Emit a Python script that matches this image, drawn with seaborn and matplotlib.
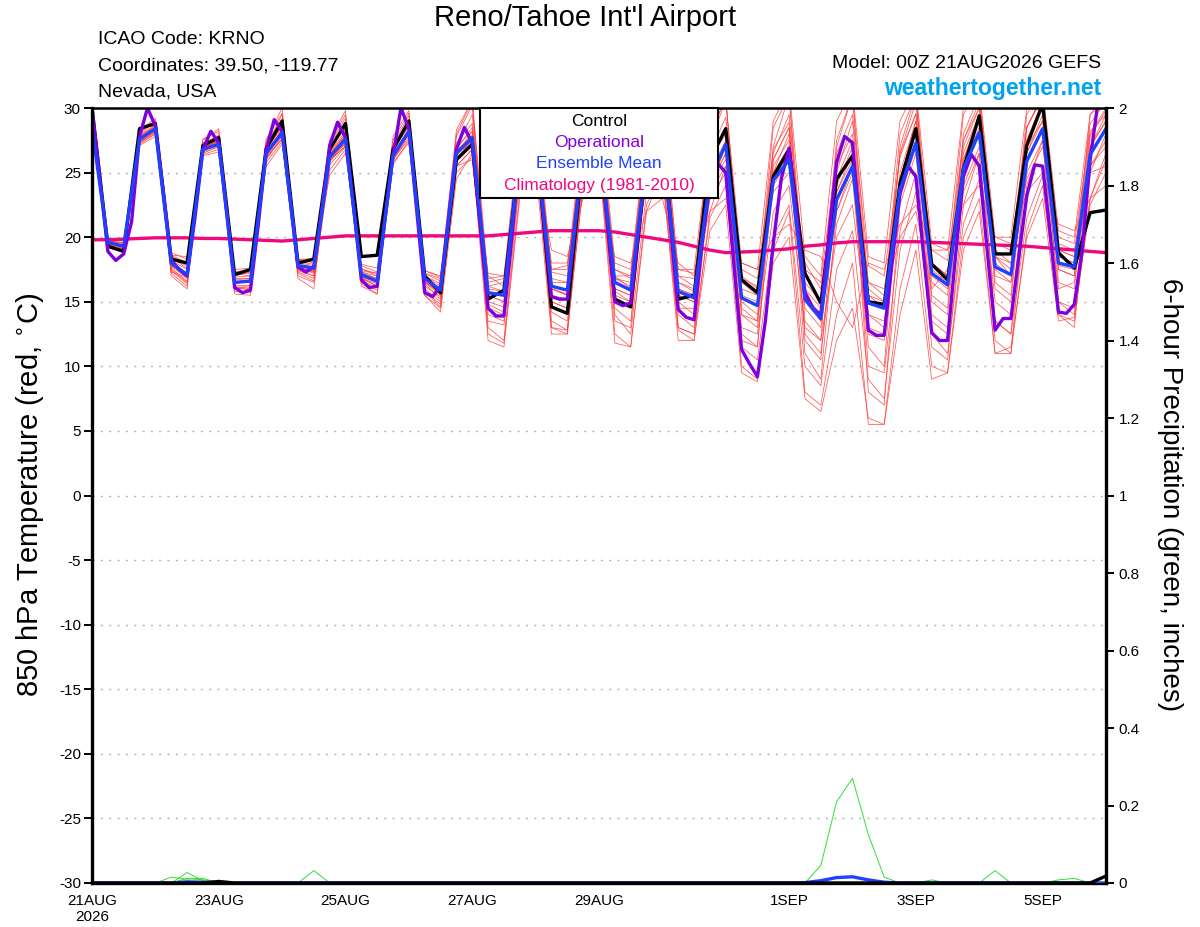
import numpy as np
import pandas as pd
import matplotlib
matplotlib.use("Agg")
import matplotlib.pyplot as plt
import seaborn as sns
from matplotlib.patches import Rectangle

# ---------------- data ----------------
hours6 = np.arange(0, 385, 6)      # 00Z 21AUG2026 .. 00Z 06SEP2026, 6-hourly
hours3 = np.arange(0, 385, 3)      # operational run, 3-hourly

tick_hours = [0, 48, 96, 144, 192, 264, 312, 360]
tick_labels = ["21AUG\n2026", "23AUG", "25AUG", "27AUG", "29AUG", "1SEP", "3SEP", "5SEP"]

control = [30.0,
    19.3, 18.9, 28.4, 28.8,
    18.3, 18.0, 27.1, 27.7,
    17.1, 17.5, 26.9, 29.0,
    18.0, 18.3, 26.8, 28.8,
    18.5, 18.6, 26.8, 29.0,
    17.0, 15.7, 26.0, 27.2,
    15.2, 15.9, 26.5, 28.0,
    14.6, 14.1, 26.5, 28.0,
    15.2, 14.6, 26.0, 28.0,
    15.2, 15.5, 26.0, 28.4,
    16.7, 15.7, 24.7, 26.8,
    17.2, 14.9, 24.5, 26.3,
    15.0, 14.8, 24.2, 28.4,
    17.9, 16.7, 25.3, 29.4,
    18.7, 18.7, 27.1, 30.3,
    18.8, 17.6, 21.9, 22.1]

ens_mean = [28.5,
    19.6, 19.3, 27.6, 28.4,
    18.0, 17.1, 26.8, 27.2,
    16.5, 16.6, 26.5, 28.1,
    17.8, 17.6, 26.2, 27.6,
    17.1, 16.6, 26.3, 28.2,
    16.8, 15.9, 26.5, 27.7,
    15.7, 15.5, 26.5, 27.5,
    16.2, 15.9, 26.5, 27.5,
    16.5, 15.9, 26.0, 27.5,
    15.8, 15.3, 24.5, 27.2,
    15.3, 14.7, 24.4, 26.0,
    15.2, 13.7, 22.9, 25.5,
    14.9, 14.5, 23.7, 27.3,
    17.2, 16.3, 25.3, 28.1,
    17.7, 17.1, 25.9, 28.4,
    18.0, 17.7, 26.4, 28.4]

operational = [30.0,
    24.5, 18.9, 18.2, 18.7, 21.2, 27.8, 30.0, 28.6,
    23.5, 18.2, 17.5, 17.0, 21.5, 26.8, 28.2, 27.3,
    22.0, 16.1, 15.7, 15.9, 21.0, 26.8, 29.1, 28.2,
    23.0, 17.7, 17.3, 17.7, 22.0, 27.1, 28.9, 27.7,
    22.5, 16.7, 16.1, 16.2, 21.5, 26.3, 30.0, 28.4,
    22.0, 15.7, 15.4, 16.2, 21.5, 26.8, 28.5, 27.3,
    21.0, 14.5, 13.9, 13.9, 20.0, 26.5, 28.5, 27.5,
    21.5, 15.4, 15.2, 15.2, 21.0, 26.5, 28.3, 27.5,
    21.5, 15.0, 14.7, 14.9, 20.5, 26.0, 28.0, 27.5,
    21.0, 14.4, 13.8, 13.6, 19.5, 24.0, 25.7, 25.0,
    18.0, 11.3, 10.2, 9.2, 13.5, 19.5, 24.5, 26.9,
    21.5, 15.7, 14.5, 14.0, 20.0, 25.8, 27.8, 27.3,
    20.0, 12.8, 12.4, 12.4, 18.0, 23.4, 25.5, 24.7,
    18.5, 12.6, 12.0, 12.0, 18.5, 24.7, 26.4, 25.5,
    19.0, 12.8, 13.7, 13.7, 18.5, 23.2, 25.6, 25.5,
    20.0, 14.2, 14.1, 14.8, 19.0, 26.0, 30.5, 31.0]

climatology = [19.8,
    19.8, 19.85, 19.9, 19.95,
    19.95, 19.95, 19.9, 19.9,
    19.85, 19.8, 19.75, 19.7,
    19.8, 19.9, 20.0, 20.1,
    20.1, 20.1, 20.1, 20.1,
    20.1, 20.1, 20.1, 20.1,
    20.1, 20.2, 20.3, 20.4,
    20.5, 20.5, 20.5, 20.5,
    20.4, 20.2, 20.0, 19.8,
    19.6, 19.3, 19.0, 18.8,
    18.85, 18.9, 19.0, 19.1,
    19.3, 19.4, 19.55, 19.65,
    19.65, 19.65, 19.65, 19.65,
    19.6, 19.55, 19.5, 19.45,
    19.4, 19.35, 19.3, 19.2,
    19.1, 19.0, 18.9, 18.8]

# ensemble members (850 hPa temperature)
mem01 = [29.5,
    19.8, 19.5, 28.0, 28.9, 18.4, 17.6, 27.3, 27.8, 17.0, 17.3, 27.2, 28.8, 18.3, 18.0, 26.9, 28.4,
    17.5, 17.2, 27.0, 28.9, 17.2, 16.6, 27.3, 28.8, 16.5, 16.8, 27.6, 28.9, 17.3, 17.0, 27.8, 29.0,
    17.5, 17.0, 27.5, 29.2, 17.0, 16.8, 26.5, 29.3, 17.5, 16.8, 26.8, 28.9, 17.5, 16.5, 26.5, 29.5,
    17.8, 17.0, 26.2, 29.6, 19.0, 18.2, 27.5, 30.5, 19.5, 19.0, 28.5, 30.8, 20.0, 19.5, 28.2, 29.5]
mem02 = [28.0,
    19.3, 19.0, 27.2, 28.0, 17.2, 16.2, 26.3, 26.6, 15.8, 15.7, 25.8, 27.4, 17.0, 16.5, 25.2, 26.8,
    16.5, 15.9, 25.6, 27.5, 15.8, 14.8, 25.0, 26.2, 13.5, 13.2, 24.8, 26.0, 14.2, 13.5, 24.5, 25.8,
    14.0, 12.5, 23.5, 25.5, 13.0, 12.5, 21.5, 24.0, 11.5, 10.5, 20.0, 22.5, 10.0, 8.5, 17.5, 20.5,
    9.0, 7.5, 19.0, 23.5, 12.5, 11.0, 21.0, 24.5, 13.5, 12.5, 21.5, 24.8, 15.0, 14.5, 23.0, 26.0]
mem03 = [28.8,
    19.5, 19.3, 27.8, 28.6, 17.8, 16.8, 26.9, 27.5, 16.2, 16.0, 26.8, 28.5, 17.5, 17.0, 26.5, 28.0,
    16.8, 16.4, 26.8, 28.8, 16.4, 15.2, 26.8, 28.5, 15.0, 14.6, 26.5, 28.0, 15.5, 15.2, 26.0, 27.0,
    16.8, 16.5, 27.0, 28.5, 15.0, 14.0, 25.5, 28.5, 14.0, 13.0, 25.0, 28.0, 12.5, 11.0, 21.0, 24.5,
    11.5, 10.0, 25.0, 29.0, 15.0, 14.0, 26.5, 29.5, 16.0, 15.0, 27.5, 30.5, 16.5, 16.0, 27.8, 29.8]
mem04 = [28.2,
    19.7, 19.6, 27.4, 28.2, 18.6, 18.5, 27.0, 27.0, 17.3, 17.2, 26.2, 27.6, 18.0, 18.2, 26.0, 27.0,
    17.6, 17.0, 26.0, 27.8, 17.2, 16.8, 26.2, 27.0, 17.0, 16.2, 27.0, 27.8, 17.5, 17.8, 26.8, 27.8,
    17.0, 16.0, 25.5, 26.5, 16.5, 15.8, 24.0, 26.0, 16.8, 16.2, 23.5, 25.0, 18.0, 16.0, 24.5, 27.5,
    16.5, 15.5, 20.0, 22.0, 16.0, 17.5, 24.0, 27.0, 19.0, 18.0, 24.5, 27.0, 19.5, 19.0, 25.5, 27.0]
mem05 = [28.6,
    19.4, 19.1, 27.5, 28.3, 17.5, 16.5, 26.5, 27.0, 16.0, 16.3, 26.0, 27.8, 17.3, 16.8, 25.8, 27.4,
    16.9, 16.2, 26.3, 28.4, 16.0, 15.0, 25.8, 27.8, 12.5, 11.8, 23.5, 26.5, 13.0, 12.8, 24.0, 26.8,
    12.5, 11.5, 22.5, 25.0, 12.8, 12.0, 20.5, 22.5, 9.5, 8.8, 18.0, 20.0, 7.5, 6.5, 12.0, 14.5,
    6.0, 5.5, 14.0, 19.0, 9.0, 9.5, 20.0, 23.0, 11.0, 11.5, 20.0, 23.0, 13.5, 13.8, 22.5, 25.0]
mem06 = [28.9,
    19.6, 19.4, 27.9, 28.7, 18.2, 17.5, 27.2, 27.9, 16.8, 16.8, 27.0, 29.5, 18.0, 17.8, 27.2, 29.2,
    17.3, 16.8, 27.2, 29.4, 17.0, 16.2, 27.8, 30.2, 16.0, 15.8, 28.0, 29.5, 16.8, 16.5, 28.5, 29.8,
    17.5, 16.8, 28.5, 30.5, 17.0, 16.2, 28.0, 30.8, 16.5, 15.5, 28.5, 31.0, 16.0, 14.5, 27.5, 31.0,
    16.0, 15.0, 28.0, 31.0, 18.0, 17.0, 29.5, 31.5, 18.5, 17.0, 29.5, 31.5, 19.0, 18.5, 28.8, 30.5]
mem07 = [28.3,
    19.5, 19.2, 27.6, 28.5, 18.0, 17.2, 27.0, 27.3, 16.6, 16.5, 26.6, 28.3, 17.8, 17.5, 26.0, 27.5,
    17.0, 16.5, 26.5, 28.0, 16.6, 15.6, 26.0, 27.5, 15.5, 15.0, 26.5, 27.2, 16.0, 15.5, 26.0, 27.0,
    16.0, 15.5, 26.5, 27.8, 15.5, 15.0, 24.0, 26.5, 15.5, 15.0, 24.0, 26.0, 14.5, 13.0, 23.5, 26.0,
    14.0, 13.5, 23.0, 27.0, 16.5, 15.5, 25.0, 28.0, 17.0, 16.5, 26.0, 28.5, 17.5, 17.0, 26.5, 28.5]
mem08 = [28.4,
    19.9, 19.8, 27.3, 28.0, 18.8, 18.3, 26.7, 27.1, 17.5, 17.6, 26.4, 27.9, 18.2, 18.3, 26.3, 27.2,
    17.8, 17.3, 26.0, 27.6, 17.4, 17.0, 25.5, 26.8, 17.2, 17.0, 25.0, 26.5, 18.0, 18.0, 25.5, 26.5,
    17.0, 17.0, 24.0, 25.0, 17.5, 17.2, 22.0, 23.0, 18.0, 17.5, 20.0, 21.0, 19.0, 18.5, 15.0, 13.0,
    18.0, 17.5, 21.0, 22.5, 19.0, 19.0, 22.5, 24.0, 20.0, 19.5, 23.5, 25.0, 21.0, 20.5, 23.0, 24.0]
mem09 = [28.7,
    19.2, 18.8, 27.5, 28.4, 17.0, 16.0, 26.8, 27.6, 15.6, 15.5, 26.3, 28.4, 16.8, 16.0, 26.4, 28.0,
    16.2, 15.6, 26.6, 28.7, 15.5, 14.5, 26.4, 28.2, 14.0, 13.5, 26.0, 27.5, 13.5, 12.8, 25.5, 27.2,
    14.5, 13.5, 25.0, 27.0, 14.0, 13.0, 25.0, 27.5, 12.0, 11.5, 26.0, 28.5, 12.0, 10.5, 24.0, 27.0,
    8.0, 7.0, 22.5, 26.5, 13.5, 12.5, 26.0, 29.0, 13.5, 12.5, 26.5, 29.5, 15.0, 14.0, 27.0, 29.5]
mem10 = [28.5,
    19.7, 19.5, 27.7, 28.5, 18.3, 17.8, 27.0, 27.4, 16.9, 17.0, 26.8, 28.6, 17.6, 17.4, 26.6, 28.2,
    17.2, 16.8, 26.7, 28.6, 16.8, 16.0, 27.0, 28.2, 16.2, 15.8, 26.8, 28.2, 16.5, 16.5, 27.0, 28.2,
    16.5, 16.0, 27.0, 28.5, 16.5, 16.0, 26.0, 28.0, 16.0, 15.5, 26.0, 28.5, 15.5, 14.0, 25.5, 28.0,
    15.5, 15.0, 26.5, 29.5, 18.0, 17.0, 27.5, 30.0, 18.5, 17.5, 28.5, 31.0, 18.5, 18.0, 28.0, 30.0]
mem11 = [28.1,
    19.4, 19.4, 27.1, 27.8, 18.5, 18.0, 26.4, 26.8, 17.2, 17.0, 25.5, 27.2, 18.1, 17.9, 24.8, 26.5,
    17.4, 17.2, 25.8, 27.3, 17.0, 16.4, 25.5, 26.0, 14.5, 14.0, 25.5, 27.0, 15.0, 14.5, 25.5, 26.5,
    15.5, 15.0, 26.0, 27.0, 14.5, 14.5, 23.0, 25.0, 13.0, 12.5, 22.0, 24.0, 13.0, 12.0, 20.0, 22.5,
    12.5, 12.0, 24.0, 28.0, 14.0, 13.0, 23.5, 26.5, 15.0, 14.0, 25.0, 27.5, 16.0, 16.5, 25.5, 27.5]
mem12 = [29.0,
    19.8, 19.0, 28.1, 29.0, 17.7, 17.0, 27.5, 28.4, 16.5, 16.7, 27.5, 30.0, 17.5, 17.3, 27.5, 29.8,
    16.9, 16.5, 27.5, 29.6, 16.5, 15.8, 28.0, 30.5, 15.5, 15.0, 28.5, 30.5, 16.0, 15.5, 28.0, 30.0,
    16.0, 15.5, 28.0, 30.5, 16.0, 15.5, 27.5, 31.0, 14.5, 13.5, 27.0, 31.0, 13.5, 12.0, 27.0, 31.0,
    13.0, 12.5, 27.0, 31.0, 15.5, 14.5, 28.0, 31.0, 16.5, 15.5, 28.5, 31.0, 17.5, 17.0, 29.5, 30.5]
mem13 = [28.4,
    19.5, 19.1, 27.4, 28.1, 17.9, 17.0, 26.6, 27.0, 16.4, 16.6, 26.4, 28.0, 17.6, 17.2, 26.0, 27.3,
    17.0, 16.5, 26.1, 28.0, 16.5, 15.5, 26.3, 27.5, 15.8, 15.5, 26.8, 28.3, 16.0, 15.6, 26.8, 28.0,
    16.8, 16.2, 26.5, 28.2, 15.5, 15.0, 25.5, 28.5, 15.0, 14.0, 25.5, 27.5, 16.0, 13.5, 22.0, 25.0,
    14.0, 13.0, 24.5, 29.0, 17.0, 16.0, 26.0, 29.5, 17.5, 16.5, 26.5, 29.0, 17.8, 17.5, 27.0, 29.0]
mem14 = [28.6,
    19.6, 19.2, 27.7, 28.3, 17.6, 16.6, 26.9, 27.3, 16.3, 16.2, 26.7, 28.2, 17.7, 17.3, 26.4, 27.8,
    16.8, 16.2, 26.4, 28.3, 16.5, 15.8, 26.7, 27.9, 14.8, 14.2, 26.0, 27.5, 15.0, 14.5, 25.0, 26.8,
    15.8, 15.0, 25.0, 26.5, 16.0, 15.5, 23.5, 25.5, 14.0, 13.5, 25.0, 27.0, 15.0, 13.5, 23.5, 26.5,
    16.5, 16.0, 24.5, 28.0, 18.0, 17.0, 25.5, 28.5, 18.5, 18.0, 27.0, 29.0, 18.5, 18.0, 27.0, 29.0]
mem15 = [28.3,
    19.4, 19.0, 27.3, 28.2, 17.4, 16.4, 26.6, 27.4, 16.1, 15.9, 26.2, 27.9, 17.2, 16.6, 25.6, 27.0,
    16.4, 15.6, 26.0, 28.0, 15.5, 14.2, 24.5, 26.5, 12.0, 11.5, 23.0, 25.5, 12.5, 12.5, 24.0, 26.0,
    11.8, 11.5, 22.0, 25.0, 12.0, 12.0, 22.0, 25.5, 10.0, 9.0, 19.0, 22.0, 8.0, 7.0, 14.0, 18.0,
    5.5, 5.5, 16.0, 21.0, 10.0, 9.5, 19.0, 22.0, 11.0, 11.0, 20.5, 24.0, 14.0, 13.5, 23.0, 26.5]
mem16 = [29.2,
    19.9, 19.7, 28.3, 29.2, 18.6, 18.0, 27.6, 28.2, 17.3, 17.5, 27.6, 29.6, 18.3, 18.3, 27.3, 29.5,
    17.9, 17.6, 27.8, 29.8, 17.4, 16.9, 28.3, 30.6, 16.8, 17.0, 28.5, 30.0, 17.5, 17.5, 28.5, 30.5,
    18.0, 17.5, 28.0, 30.5, 17.5, 17.5, 27.5, 30.5, 18.0, 17.5, 29.0, 31.5, 18.5, 17.0, 29.0, 31.5,
    18.5, 18.0, 29.0, 31.5, 19.5, 19.0, 30.0, 31.5, 20.0, 20.0, 30.0, 31.5, 20.5, 20.0, 29.5, 31.0]
mem17 = [28.7,
    19.6, 19.3, 27.8, 28.6, 17.8, 17.2, 26.9, 27.5, 16.7, 16.8, 26.7, 28.7, 17.9, 17.7, 26.3, 27.9,
    17.3, 17.0, 26.9, 28.7, 16.2, 15.4, 27.0, 29.5, 16.2, 16.5, 25.5, 26.0, 19.0, 18.5, 23.0, 24.5,
    18.5, 18.0, 22.0, 23.0, 18.0, 17.0, 24.0, 27.0, 17.0, 16.0, 26.5, 29.5, 16.5, 15.0, 25.0, 29.0,
    15.5, 14.5, 26.5, 30.5, 17.5, 16.5, 27.0, 30.0, 18.0, 17.0, 27.5, 30.5, 19.0, 18.5, 25.0, 25.5]
mem18 = [28.2,
    19.3, 18.9, 27.4, 28.3, 17.3, 16.9, 26.7, 27.2, 16.0, 16.1, 26.1, 27.6, 17.4, 17.0, 25.9, 27.1,
    16.6, 16.1, 26.2, 28.0, 15.8, 14.6, 25.5, 26.8, 13.0, 12.0, 24.5, 27.0, 13.0, 12.5, 25.5, 27.5,
    13.5, 13.0, 26.0, 27.0, 13.0, 12.5, 24.0, 26.5, 12.5, 11.5, 24.5, 26.5, 11.0, 9.0, 22.0, 25.5,
    10.0, 9.5, 20.5, 25.0, 11.5, 10.5, 22.5, 26.5, 12.0, 11.0, 24.0, 27.5, 14.0, 13.0, 25.0, 28.0]
members = [mem01, mem02, mem03, mem04, mem05, mem06, mem07, mem08, mem09,
           mem10, mem11, mem12, mem13, mem14, mem15, mem16, mem17, mem18]

# 6-hour precipitation (inches)
pr01 = [0.0,
    0, 0, 0, 0, 0, 0, 0, 0, 0, 0, 0, 0, 0, 0.032, 0, 0,
    0, 0, 0, 0, 0, 0, 0, 0, 0, 0, 0, 0, 0, 0, 0, 0,
    0, 0, 0, 0, 0, 0, 0, 0, 0, 0, 0, 0, 0, 0.045, 0.21, 0.27,
    0.125, 0.015, 0, 0, 0, 0, 0, 0, 0, 0, 0, 0, 0, 0, 0, 0]
pr02 = [0.0,
    0, 0, 0, 0, 0.015, 0.01, 0.012, 0, 0, 0, 0, 0, 0, 0, 0, 0,
    0, 0, 0, 0, 0, 0, 0, 0, 0, 0, 0, 0, 0, 0, 0, 0,
    0, 0, 0, 0, 0, 0, 0, 0, 0, 0, 0, 0, 0, 0, 0, 0,
    0, 0, 0, 0, 0.008, 0, 0, 0, 0.032, 0, 0, 0, 0, 0, 0, 0]
pr03 = [0.0,
    0, 0, 0, 0, 0, 0.027, 0.006, 0, 0, 0, 0, 0, 0, 0, 0, 0,
    0, 0, 0, 0, 0, 0, 0, 0, 0, 0, 0, 0, 0, 0, 0, 0,
    0, 0, 0, 0, 0, 0, 0, 0, 0, 0, 0, 0, 0, 0, 0, 0,
    0, 0, 0, 0, 0, 0, 0, 0, 0, 0, 0, 0, 0.008, 0.012, 0, 0]
pr04 = [0.0,
    0, 0, 0, 0, 0, 0.012, 0.008, 0.004, 0, 0, 0, 0, 0, 0, 0, 0,
    0, 0, 0, 0, 0, 0, 0, 0, 0, 0, 0, 0, 0, 0, 0, 0,
    0, 0, 0, 0, 0, 0, 0, 0, 0, 0, 0, 0, 0, 0, 0, 0,
    0, 0, 0, 0, 0, 0, 0, 0, 0, 0, 0, 0, 0, 0, 0, 0]
precip_members = [pr01, pr02, pr03, pr04]
precip_mean = [0.0,
    0, 0, 0, 0, 0, 0.003, 0.002, 0, 0, 0, 0, 0, 0, 0, 0, 0,
    0, 0, 0, 0, 0, 0, 0, 0, 0, 0, 0, 0, 0, 0, 0, 0,
    0, 0, 0, 0, 0, 0, 0, 0, 0, 0, 0, 0, 0.001, 0.006, 0.014, 0.016,
    0.008, 0.002, 0, 0, 0, 0, 0, 0, 0, 0, 0, 0, 0, 0, 0, 0]
precip_control = [0.0,
    0, 0, 0, 0, 0, 0, 0, 0.004, 0, 0, 0, 0, 0, 0, 0, 0,
    0, 0, 0, 0, 0, 0, 0, 0, 0, 0, 0, 0, 0, 0, 0, 0,
    0, 0, 0, 0, 0, 0, 0, 0, 0, 0, 0, 0, 0, 0, 0, 0,
    0, 0, 0, 0, 0, 0, 0, 0, 0, 0, 0, 0, 0, 0, 0, 0.018]

# ---------------- tables ----------------
n6 = len(hours6)
df_mem = pd.DataFrame({
    "hour": np.tile(hours6, len(members)),
    "temp": np.concatenate([np.asarray(m, float) for m in members]),
    "member": np.repeat(np.arange(len(members)), n6),
})
df_pr = pd.DataFrame({
    "hour": np.tile(hours6, len(precip_members)),
    "precip": np.concatenate([np.asarray(m, float) for m in precip_members]),
    "member": np.repeat(np.arange(len(precip_members)), n6),
})

# ---------------- style ----------------
sns.set_style("white")
plt.rcParams["font.family"] = ["Liberation Sans", "DejaVu Sans"]
plt.rcParams["axes.axisbelow"] = True
for key in ["text.color", "axes.labelcolor", "xtick.color", "ytick.color", "axes.edgecolor"]:
    plt.rcParams[key] = "black"

C_CTRL = "#000000"
C_OPER = "#7f00df"
C_MEAN = "#2040ff"
C_CLIM = "#f0087f"
C_MEM = "#ff3a3a"
C_PR = "#33dd33"
C_WEB = "#00a2f2"

W, H = 1200, 927
fig = plt.figure(figsize=(W / 100, H / 100), dpi=100)
L, R, T, B = 92, 1106, 108, 883
ax = fig.add_axes([L / W, 1 - B / H, (R - L) / W, (B - T) / H])

sns.lineplot(data=df_mem, x="hour", y="temp", units="member", estimator=None,
             color=C_MEM, lw=0.55, alpha=0.85, ax=ax, legend=False)
sns.lineplot(x=hours6, y=climatology, color=C_CLIM, lw=2.4, ax=ax)
sns.lineplot(x=hours6, y=control, color=C_CTRL, lw=2.4, ax=ax)
sns.lineplot(x=hours3, y=operational, color=C_OPER, lw=2.4, ax=ax)
sns.lineplot(x=hours6, y=ens_mean, color=C_MEAN, lw=2.4, ax=ax)

ax.set_xlim(0, 384)
ax.set_ylim(-30, 30)
ax.set_xlabel("")
ax.set_ylabel("")
ax.set_yticks(np.arange(-30, 31, 5))
ax.set_yticklabels([str(v) for v in range(-30, 31, 5)])
ax.set_xticks(tick_hours)
ax.set_xticklabels(tick_labels)
ax.yaxis.grid(True, linestyle=(0, (1.5, 4.5)), color="#b4b4b4", lw=1.0)
ax.xaxis.grid(False)
tick_font = ["Liberation Sans Narrow", "Liberation Sans", "DejaVu Sans"]
ax.tick_params(axis="both", direction="out", length=6, width=1.4, labelsize=11, pad=2,
               colors="black")
for lab in ax.get_xticklabels() + ax.get_yticklabels():
    lab.set_family(tick_font)
for side in ["left", "bottom"]:
    ax.spines[side].set_linewidth(2.4)
ax.spines["top"].set_linewidth(1.8)
ax.spines["right"].set_visible(False)
for s in ax.spines.values():
    s.set_color("black")

# precipitation axis
ax2 = ax.twinx()
sns.lineplot(data=df_pr, x="hour", y="precip", units="member", estimator=None,
             color=C_PR, lw=0.7, ax=ax2, legend=False)
sns.lineplot(x=hours6, y=precip_mean, color=C_MEAN, lw=2.4, ax=ax2)
sns.lineplot(x=hours6, y=precip_control, color=C_CTRL, lw=2.4, ax=ax2)
ax2.set_ylim(0, 2)
ax2.set_xlim(0, 384)
ax2.set_ylabel("")
ax2.set_xlabel("")
pr_ticks = np.round(np.arange(0, 2.01, 0.2), 1)
ax2.set_yticks(pr_ticks)
ax2.set_yticklabels(["0", "0.2", "0.4", "0.6", "0.8", "1", "1.2", "1.4", "1.6", "1.8", "2"])
ax2.tick_params(axis="y", direction="out", length=6, width=1.4, labelsize=11, pad=3,
                colors="black")
for lab in ax2.get_yticklabels():
    lab.set_family(tick_font)
for side in ["left", "top", "bottom"]:
    ax2.spines[side].set_visible(False)
ax2.spines["right"].set_linewidth(2.4)
ax2.spines["right"].set_color("black")
ax2.grid(False)

# legend box (drawn on top of the temperature lines)
x0 = (480 - L) / (R - L)
x1 = (718 - L) / (R - L)
y0 = (B - 198) / (B - T)
ax2.add_patch(Rectangle((x0, y0), x1 - x0, 1 - y0, transform=ax2.transAxes,
                        facecolor="white", edgecolor="black", lw=1.5, zorder=20, clip_on=False))
leg_items = [("Control", C_CTRL, 121), ("Operational", C_OPER, 142),
             ("Ensemble Mean", C_MEAN, 163), ("Climatology (1981-2010)", C_CLIM, 185)]
for txt, col, ypx in leg_items:
    ax2.text((x0 + x1) / 2, (B - ypx) / (B - T), txt, color=col, fontsize=12.5,
             ha="center", va="center", transform=ax2.transAxes, zorder=21)

# titles and annotations
fig.text(585 / W, 1 - 18 / H, "Reno/Tahoe Int'l Airport", fontsize=21, ha="center", va="center")
for txt, ypx in [("ICAO Code: KRNO", 40), ("Coordinates: 39.50, -119.77", 66), ("Nevada, USA", 92)]:
    fig.text(98 / W, 1 - ypx / H, txt, fontsize=14, ha="left", va="center")
fig.text(1101 / W, 1 - 63 / H, "Model: 00Z 21AUG2026 GEFS", fontsize=14, ha="right", va="center")
fig.text(1101 / W, 1 - 89 / H, "weathertogether.net", fontsize=16.5, fontweight="bold",
         color=C_WEB, ha="right", va="center")
fig.text(30 / W, 1 - 495 / H, "850 hPa Temperature (red, $^{\\circ}$C)", fontsize=21,
         rotation=90, ha="center", va="center")
fig.text(1170 / W, 1 - 495 / H, "6-hour Precipitation (green, inches)", fontsize=20,
         rotation=270, ha="center", va="center")

fig.savefig("out.png", dpi=100)
